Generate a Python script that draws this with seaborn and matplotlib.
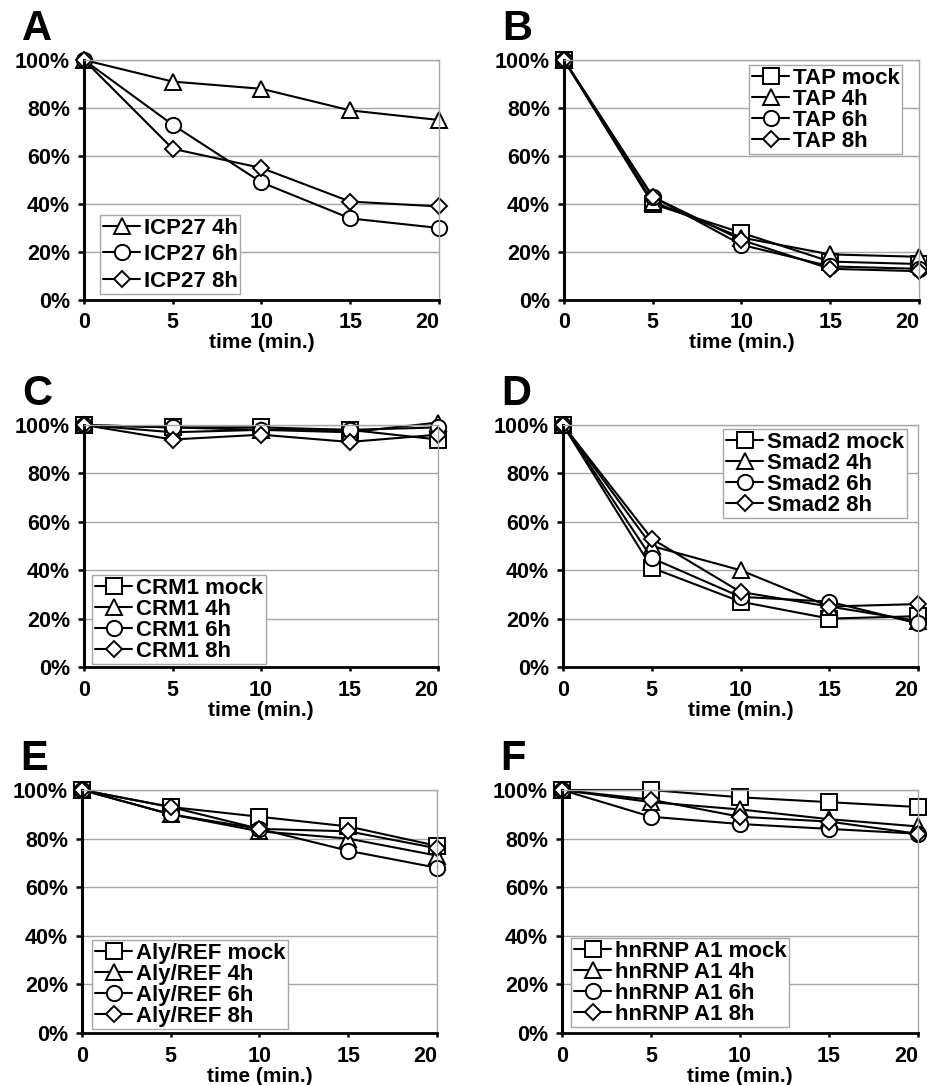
import matplotlib
matplotlib.use("Agg")
import matplotlib.pyplot as plt
import seaborn as sns
import pandas as pd
from matplotlib.ticker import PercentFormatter

# ---------------- data ----------------
times = [0, 5, 10, 15, 20]

a_labels = ["ICP27 4h", "ICP27 6h", "ICP27 8h"]
a_4h = [100, 91, 88, 79, 75]
a_6h = [100, 73, 49, 34, 30]
a_8h = [100, 63, 55, 41, 39]

b_labels = ["TAP mock", "TAP 4h", "TAP 6h", "TAP 8h"]
b_mock = [100, 40, 28, 16, 15]
b_4h = [100, 41, 26, 19, 18]
b_6h = [100, 43, 23, 14, 13]
b_8h = [100, 43, 25, 13, 12]

c_labels = ["CRM1 mock", "CRM1 4h", "CRM1 6h", "CRM1 8h"]
c_mock = [100, 99, 99, 98, 94]
c_4h = [100, 97, 98, 97, 101]
c_6h = [100, 99, 98, 98, 99]
c_8h = [100, 94, 96, 93, 96]

d_labels = ["Smad2 mock", "Smad2 4h", "Smad2 6h", "Smad2 8h"]
d_mock = [100, 41, 27, 20, 21]
d_4h = [100, 50, 40, 25, 19]
d_6h = [100, 45, 29, 27, 18]
d_8h = [100, 53, 31, 25, 26]

e_labels = ["Aly/REF mock", "Aly/REF 4h", "Aly/REF 6h", "Aly/REF 8h"]
e_mock = [100, 93, 89, 85, 77]
e_4h = [100, 90, 83, 80, 73]
e_6h = [100, 90, 84, 75, 68]
e_8h = [100, 93, 84, 83, 76]

f_labels = ["hnRNP A1 mock", "hnRNP A1 4h", "hnRNP A1 6h", "hnRNP A1 8h"]
f_mock = [100, 100, 97, 95, 93]
f_4h = [100, 95, 92, 88, 85]
f_6h = [100, 89, 86, 84, 82]
f_8h = [100, 96, 89, 87, 82]

y_ticks = [0, 20, 40, 60, 80, 100]
x_label = "time (min.)"

# ---------------- style ----------------
sns.set_theme(style="white")
plt.rcParams["font.family"] = ["Liberation Sans", "DejaVu Sans"]
plt.rcParams["font.weight"] = "bold"
plt.rcParams["text.color"] = "black"
plt.rcParams["axes.labelcolor"] = "black"
plt.rcParams["xtick.color"] = "black"
plt.rcParams["ytick.color"] = "black"

W, H = 928, 1085
fig = plt.figure(figsize=(W / 100, H / 100), dpi=100)
fig.patch.set_facecolor("white")

marker_style = {
    "mock": dict(marker="s", markersize=11),
    "4h": dict(marker="^", markersize=12),
    "6h": dict(marker="o", markersize=11),
    "8h": dict(marker="D", markersize=8),
}

# panel: letter, axes box px (x0, x1, ytop, ybottom), legend anchor px (left, top), spacing, series
panels = [
    ("A", (84, 439, 60, 300), (100, 215), 0.25,
     [("4h", a_labels[0], a_4h), ("6h", a_labels[1], a_6h), ("8h", a_labels[2], a_8h)]),
    ("B", (564, 919, 60, 300), (749, 65), 0.0,
     [("mock", b_labels[0], b_mock), ("4h", b_labels[1], b_4h),
      ("6h", b_labels[2], b_6h), ("8h", b_labels[3], b_8h)]),
    ("C", (84, 438, 425, 667), (92, 575), 0.0,
     [("mock", c_labels[0], c_mock), ("4h", c_labels[1], c_4h),
      ("6h", c_labels[2], c_6h), ("8h", c_labels[3], c_8h)]),
    ("D", (563, 918, 425, 667), (723, 429), 0.0,
     [("mock", d_labels[0], d_mock), ("4h", d_labels[1], d_4h),
      ("6h", d_labels[2], d_6h), ("8h", d_labels[3], d_8h)]),
    ("E", (82, 437, 790, 1033), (92, 940), 0.0,
     [("mock", e_labels[0], e_mock), ("4h", e_labels[1], e_4h),
      ("6h", e_labels[2], e_6h), ("8h", e_labels[3], e_8h)]),
    ("F", (562, 918, 790, 1033), (571, 938), 0.0,
     [("mock", f_labels[0], f_mock), ("4h", f_labels[1], f_4h),
      ("6h", f_labels[2], f_6h), ("8h", f_labels[3], f_8h)]),
]

grey = "#a6a6a6"

for letter, (x0, x1, yt, yb), (lx, ly), lspace, series in panels:
    ax = fig.add_axes([x0 / W, 1 - yb / H, (x1 - x0) / W, (yb - yt) / H])
    ax.set_facecolor("white")
    handles = []
    for key, label, vals in series:
        df = pd.DataFrame({"time": times, "value": vals})
        sns.lineplot(data=df, x="time", y="value", ax=ax, color="black",
                     linewidth=1.5, markerfacecolor="white",
                     markeredgecolor="black", markeredgewidth=1.4,
                     clip_on=False, legend=False, label=label,
                     **marker_style[key])
        handles.append(ax.lines[-1])

    ax.set_xlim(0, 20)
    ax.set_ylim(0, 100)
    ax.set_xticks(times)
    ax.set_yticks(y_ticks)
    ax.yaxis.set_major_formatter(PercentFormatter(100, decimals=0))
    ax.grid(axis="y", color=grey, linewidth=1.0)
    ax.grid(axis="x", visible=False)
    ax.set_axisbelow(True)
    for s in ("top", "right"):
        ax.spines[s].set_color(grey)
        ax.spines[s].set_linewidth(1.0)
    ax.spines["left"].set_color("black")
    ax.spines["left"].set_linewidth(2.2)
    ax.spines["bottom"].set_color("black")
    ax.spines["bottom"].set_linewidth(2.0)
    ax.tick_params(axis="y", direction="out", length=4, width=1.8,
                   color="black", pad=6, labelsize=15.5, left=True)
    ax.tick_params(axis="x", direction="out", length=3, width=1.8,
                   color="black", pad=6, labelsize=15.5, bottom=True)
    for t in ax.get_xticklabels() + ax.get_yticklabels():
        t.set_fontweight("bold")
        t.set_color("black")
    ax.get_xticklabels()[-1].set_horizontalalignment("right")
    ax.set_ylabel("")
    ax.set_xlabel(x_label, fontsize=15, fontweight="bold", labelpad=0,
                  color="black")

    leg = ax.legend(handles=handles, labels=[s[1] for s in series],
                    loc="upper left",
                    bbox_to_anchor=(lx / W, 1 - ly / H),
                    bbox_transform=fig.transFigure, borderaxespad=0,
                    frameon=True, fancybox=False, framealpha=1,
                    edgecolor=grey, handlelength=1.7,
                    handletextpad=0.15, labelspacing=lspace,
                    borderpad=0.12, prop={"weight": "bold", "size": 16})
    leg.get_frame().set_linewidth(1.0)
    for t in leg.get_texts():
        t.set_color("black")
    leg.set_zorder(5)

    fig.text((x0 - 62) / W, 1 - (yt - 20) / H, letter, fontsize=30,
             fontweight="bold", ha="left", va="baseline", color="black")

fig.savefig("out.png", dpi=100, facecolor="white")
